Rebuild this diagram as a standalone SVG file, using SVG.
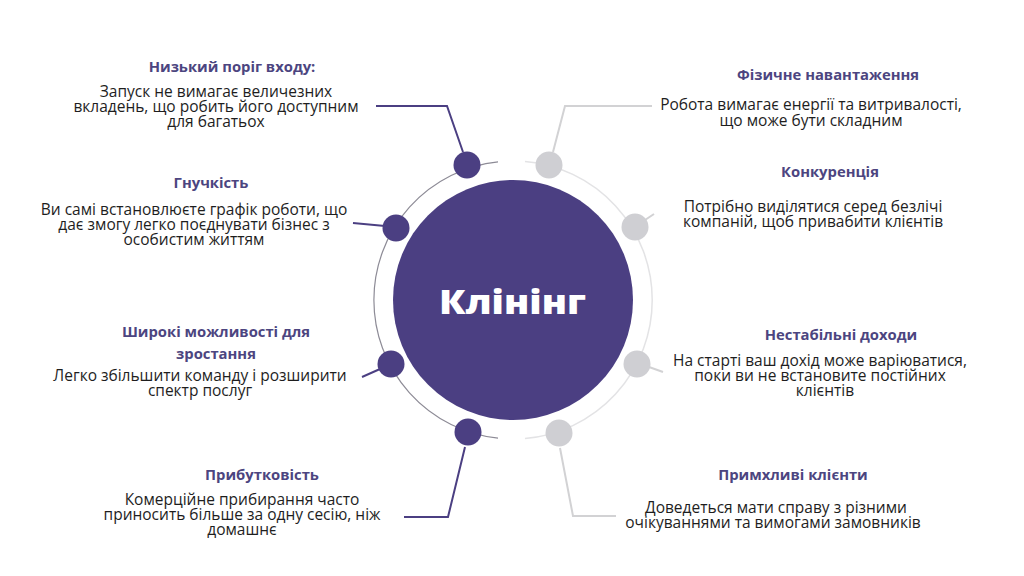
<svg xmlns="http://www.w3.org/2000/svg" width="1024" height="576" viewBox="0 0 1024 576">
<style>
.h{font-family:"Open Sans","Liberation Sans",sans-serif;font-weight:700;font-size:14.8px;fill:#4c4580;text-anchor:middle}
.b{font-family:"Open Sans","Liberation Sans",sans-serif;font-size:15.5px;fill:#1e1e1e;text-anchor:middle}
.dk{stroke:#4b3f82;stroke-width:2;fill:none}
.lt{stroke:#d2d2d4;stroke-width:2;fill:none}
.cd{fill:#4b3f82}
.cl{fill:#cfcfd3}
</style>
<rect width="1024" height="576" fill="#ffffff"/>
<g id="ring">
<path d="M498 161.8 A139 139 0 0 0 498 438.2" fill="none" stroke="#8d8b96" stroke-width="1.2"/>
<path d="M525 161.5 A139 139 0 0 1 525 438.5" fill="none" stroke="#e3e3e5" stroke-width="1.5"/>
</g>
<g id="connectors">
<polyline class="dk" points="376,106 447,106 463,152"/>
<polyline class="lt" points="652,106 565,106 553,152"/>
<line class="dk" x1="353" y1="223" x2="385" y2="226"/>
<line class="lt" x1="645" y1="220" x2="654" y2="214"/>
<line class="dk" x1="362" y1="377" x2="380" y2="369"/>
<line class="lt" x1="649" y1="367" x2="663" y2="372"/>
<polyline class="dk" points="465,447 448,517 404,517"/>
<polyline class="lt" points="560,448 573,516 616,516"/>
</g>
<g id="center">
<circle cx="513" cy="300" r="120" fill="#4b3f82"/>
<text x="512.5" y="314" font-family="'Open Sans','Liberation Sans',sans-serif" font-weight="800" font-size="33" fill="#ffffff" text-anchor="middle" textLength="147" lengthAdjust="spacingAndGlyphs">Клінінг</text>
</g>
<g id="dots">
<circle class="cd" cx="467" cy="165" r="13.5"/>
<circle class="cd" cx="396" cy="228" r="13.5"/>
<circle class="cd" cx="391" cy="364" r="13.5"/>
<circle class="cd" cx="468" cy="432" r="13.5"/>
<circle class="cl" cx="549" cy="165" r="13.5"/>
<circle class="cl" cx="635" cy="227" r="13.5"/>
<circle class="cl" cx="637" cy="364" r="13.5"/>
<circle class="cl" cx="559" cy="433" r="13.5"/>
</g>
<g id="node-low-entry">
<text class="h" x="232" y="72">Низький поріг входу:</text>
<text class="b" x="216" y="97">Запуск не вимагає величезних</text>
<text class="b" x="216" y="112">вкладень, що робить його доступним</text>
<text class="b" x="216" y="127">для багатьох</text>
</g>
<g id="node-flex">
<text class="h" x="211" y="188">Гнучкість</text>
<text class="b" x="194" y="215">Ви самі встановлюєте графік роботи, що</text>
<text class="b" x="194" y="230">дає змогу легко поєднувати бізнес з</text>
<text class="b" x="194" y="245">особистим життям</text>
</g>
<g id="node-growth">
<text class="h" x="216" y="337">Широкі можливості для</text>
<text class="h" x="216" y="359">зростання</text>
<text class="b" x="200" y="381">Легко збільшити команду і розширити</text>
<text class="b" x="200" y="396">спектр послуг</text>
</g>
<g id="node-profit">
<text class="h" x="262" y="480">Прибутковість</text>
<text class="b" x="242" y="505">Комерційне прибирання часто</text>
<text class="b" x="242" y="520">приносить більше за одну сесію, ніж</text>
<text class="b" x="242" y="535">домашнє</text>
</g>
<g id="node-physical">
<text class="h" x="828" y="80">Фізичне навантаження</text>
<text class="b" x="811" y="110">Робота вимагає енергії та витривалості,</text>
<text class="b" x="811" y="126">що може бути складним</text>
</g>
<g id="node-competition">
<text class="h" x="830" y="177">Конкуренція</text>
<text class="b" x="813" y="212">Потрібно виділятися серед безлічі</text>
<text class="b" x="813" y="227">компаній, щоб привабити клієнтів</text>
</g>
<g id="node-income">
<text class="h" x="841" y="340">Нестабільні доходи</text>
<text class="b" x="820" y="366">На старті ваш дохід може варіюватися,</text>
<text class="b" x="820" y="381">поки ви не встановите постійних</text>
<text class="b" x="825" y="396">клієнтів</text>
</g>
<g id="node-clients">
<text class="h" x="793" y="480">Примхливі клієнти</text>
<text class="b" x="776" y="513">Доведеться мати справу з різними</text>
<text class="b" x="773" y="528">очікуваннями та вимогами замовників</text>
</g>
</svg>
